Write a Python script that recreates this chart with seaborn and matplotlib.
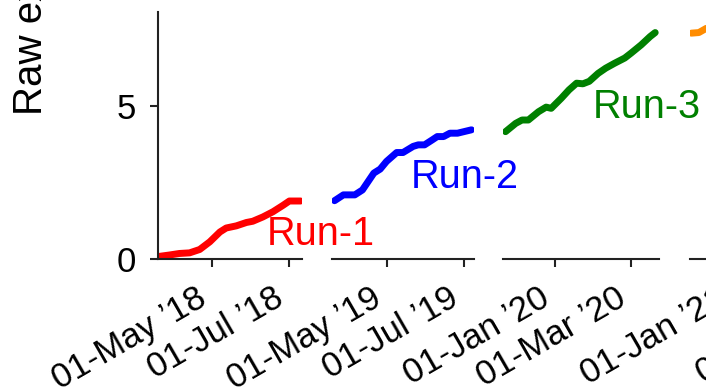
import matplotlib
matplotlib.use("Agg")
import matplotlib.pyplot as plt
import matplotlib.dates as mdates
import pandas as pd
import seaborn as sns

# Cumulative raw exposure per data-taking run
run1_dates = ["2018-03-19", "2018-03-28", "2018-04-05", "2018-04-13", "2018-04-21",
              "2018-04-29", "2018-05-07", "2018-05-12", "2018-05-20", "2018-05-28",
              "2018-06-02", "2018-06-10", "2018-06-18", "2018-06-26", "2018-07-01",
              "2018-07-10"]
run1_values = [0.08, 0.13, 0.18, 0.20, 0.31, 0.56, 0.88, 1.01, 1.08, 1.19,
               1.23, 1.37, 1.54, 1.75, 1.89, 1.89]

run2_dates = ["2019-03-21", "2019-03-28", "2019-04-06", "2019-04-12", "2019-04-21",
              "2019-04-26", "2019-05-01", "2019-05-09", "2019-05-14", "2019-05-22",
              "2019-05-26", "2019-05-31", "2019-06-06", "2019-06-10", "2019-06-15",
              "2019-06-20", "2019-06-26", "2019-07-01", "2019-07-07"]
run2_values = [1.90, 2.09, 2.09, 2.25, 2.80, 2.93, 3.18, 3.47, 3.47, 3.67,
               3.72, 3.72, 3.88, 3.99, 3.99, 4.10, 4.10, 4.15, 4.21]

run3_dates = ["2019-11-23", "2019-12-01", "2019-12-06", "2019-12-11", "2019-12-19",
              "2019-12-25", "2019-12-29", "2020-01-06", "2020-01-12", "2020-01-18",
              "2020-01-23", "2020-01-28", "2020-02-04", "2020-02-10", "2020-02-17",
              "2020-02-25", "2020-03-01", "2020-03-09", "2020-03-16", "2020-03-20"]
run3_values = [4.15, 4.42, 4.53, 4.53, 4.80, 4.95, 4.91, 5.24, 5.51, 5.73,
               5.71, 5.79, 6.05, 6.22, 6.38, 6.55, 6.71, 6.98, 7.25, 7.38]

run4_dates = ["2020-11-30", "2020-12-06", "2020-12-12"]
run4_values = [7.36, 7.38, 7.52]

run_names = ["Run-1", "Run-2", "Run-3", "Run-4"]
run_colors = ["#ff0000", "#0000ff", "#008000", "#ff8c00"]

# Visible date window and tick dates of each panel
panel_limits = [("2018-03-19", "2018-07-11"), ("2019-03-19", "2019-07-09"),
                ("2019-11-21", "2020-03-23"), ("2020-11-29", "2021-04-10")]
panel_ticks = [["2018-05-01", "2018-07-01"], ["2019-05-01", "2019-07-01"],
               ["2020-01-01", "2020-03-01"], ["2021-01-01", "2021-04-01"]]

# Run label anchors (date, value at text baseline)
label_dates = ["2018-06-13", "2019-05-20", "2020-01-31"]
label_values = [0.46, 2.30, 4.60]

sns.set_theme(style="ticks")
plt.rcParams["font.family"] = ["Liberation Sans", "DejaVu Sans"]

fig = plt.figure(figsize=(7.06, 3.87), dpi=100)
W, H = 706.0, 387.0
bottom_px, top_px = 259.0, 12.0
panel_px = [(158, 302), (332, 474), (503, 659), (690, 857)]

all_dates = [run1_dates, run2_dates, run3_dates, run4_dates]
all_values = [run1_values, run2_values, run3_values, run4_values]

for i, ((x0, x1), (lo, hi)) in enumerate(zip(panel_px, panel_limits)):
    ax = fig.add_axes([x0 / W, 1 - bottom_px / H, (x1 - x0) / W, (bottom_px - top_px) / H])
    ax.patch.set_visible(False)
    df = pd.DataFrame({"date": pd.to_datetime(all_dates[i]), "value": all_values[i]})
    sns.lineplot(data=df, x="date", y="value", ax=ax, color=run_colors[i],
                 linewidth=5, legend=False)
    ax.set_xlim(pd.Timestamp(lo), pd.Timestamp(hi))
    ax.set_ylim(0, 8.05)
    ax.set_xticks(pd.to_datetime(panel_ticks[i]))
    ax.xaxis.set_major_formatter(mdates.DateFormatter("%d-%b \u2019%y"))
    ax.set_xlabel("")
    ax.set_ylabel("")
    ax.tick_params(axis="both", which="major", length=6, width=1.5,
                   color="#222222", labelsize=25, pad=10, labelcolor="black")
    plt.setp(ax.get_xticklabels(), rotation=30, ha="right")
    for side in ["top", "right"]:
        ax.spines[side].set_visible(False)
    ax.spines["bottom"].set_linewidth(1.5)
    ax.spines["bottom"].set_color("#222222")
    if i == 0:
        ax.spines["left"].set_linewidth(1.5)
        ax.spines["left"].set_color("#222222")
        ax.set_yticks([0, 5])
        ax.set_yticklabels(["0", "5"])
    else:
        ax.spines["left"].set_visible(False)
        ax.set_yticks([])
    if i < 3:
        ax.text(pd.Timestamp(label_dates[i]), label_values[i], run_names[i],
                color=run_colors[i], fontsize=28.5, ha="left", va="baseline",
                zorder=5)

fig.text(0.0175, 0.703, "Raw exposure", rotation=90, fontsize=29,
         ha="left", va="bottom", color="black")

fig.savefig("out.png", dpi=100)
